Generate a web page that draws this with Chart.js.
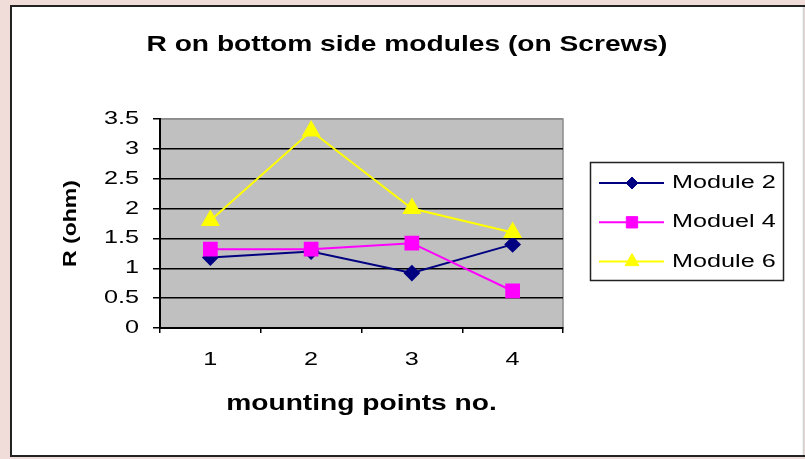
<!DOCTYPE html>
<html>
<head>
<meta charset="utf-8">
<script src="https://cdn.jsdelivr.net/npm/chart.js@4.4.1/dist/chart.umd.min.js"></script>
<style>
  body { margin: 0; background: #f0dcd8; }
  canvas { display: block; }
</style>
</head>
<body>
<canvas id="myCanvas" width="805" height="459"></canvas>
<script>
// data
const labels = ["1", "2", "3", "4"];
const module2 = [1.18, 1.28, 0.92, 1.4];
const moduel4 = [1.32, 1.32, 1.42, 0.62];
const module6 = [1.8, 3.3, 2.0, 1.6];
const seriesNames = ["Module 2", "Moduel 4", "Module 6"];
const yMin = 0;
const yMax = 3.5;
const yStep = 0.5;

const family = "'Liberation Sans', Arial, sans-serif";
Chart.defaults.font.family = family;

// the old Excel text is drawn with wide glyphs, so stretch text along its own direction
function widenText(ctx) {
  const fill = CanvasRenderingContext2D.prototype.fillText;
  ctx.fillText = function (text, x, y, maxWidth) {
    const k = /bold/.test(this.font) ? 1.28 : 1.4;
    this.save();
    this.translate(x, y);
    this.scale(k, 1);
    if (maxWidth === undefined) fill.call(this, text, 0, 0);
    else fill.call(this, text, 0, 0, maxWidth / k);
    this.restore();
  };
}

const frame = {
  id: "frame",
  beforeInit(chart) {
    widenText(chart.ctx);
  },
  afterLayout(chart) {
    // centre the title over the whole white box, not only the plot
    if (chart.titleBlock) {
      chart.titleBlock.left = 10;
      chart.titleBlock.right = 804;
      chart.titleBlock.width = 794;
    }
  },
  beforeDraw(chart) {
    const ctx = chart.ctx;
    const a = chart.chartArea;
    ctx.save();
    ctx.fillStyle = "#f0dcd8";
    ctx.fillRect(0, 0, 805, 459);
    ctx.fillStyle = "#ffffff";
    ctx.fillRect(10, 5, 794, 452);
    ctx.strokeStyle = "#222";
    ctx.lineWidth = 2;
    ctx.beginPath();
    ctx.moveTo(11, 457);
    ctx.lineTo(11, 6);
    ctx.lineTo(805, 6);
    ctx.moveTo(10, 456);
    ctx.lineTo(805, 456);
    ctx.stroke();
    ctx.strokeStyle = "#d0d0d0";
    ctx.lineWidth = 1.5;
    ctx.beginPath();
    ctx.moveTo(803.5, 7);
    ctx.lineTo(803.5, 455);
    ctx.stroke();
    // gray plot area
    ctx.fillStyle = "#c0c0c0";
    ctx.fillRect(a.left, a.top, a.right - a.left, a.bottom - a.top);
    ctx.strokeStyle = "#8c8c8c";
    ctx.lineWidth = 1.5;
    ctx.strokeRect(a.left, a.top, a.right - a.left, a.bottom - a.top);
    ctx.restore();
  },
  afterDraw(chart) {
    const ctx = chart.ctx;
    ctx.save();
    ctx.strokeStyle = "#222";
    ctx.lineWidth = 1.5;
    ctx.strokeRect(590.5, 162.5, 193, 118);
    chart.data.datasets.forEach((ds, i) => {
      const y = 183 + i * 39.3;
      ctx.strokeStyle = ds.borderColor;
      ctx.lineWidth = 2;
      ctx.beginPath();
      ctx.moveTo(599, y);
      ctx.lineTo(664, y);
      ctx.stroke();
      ctx.fillStyle = ds.pointBackgroundColor;
      ctx.strokeStyle = ds.pointBorderColor;
      ctx.lineWidth = 1;
      Chart.helpers.drawPoint(ctx, {
        pointStyle: ds.pointStyle,
        radius: ds.pointRadius - 1,
        borderWidth: 1
      }, 632, y);
      ctx.fillStyle = "#000";
      ctx.font = "18px " + family;
      ctx.textAlign = "left";
      ctx.textBaseline = "middle";
      ctx.fillText(ds.label, 672, y);
    });
    ctx.restore();
  }
};

new Chart(document.getElementById("myCanvas"), {
  type: "line",
  data: {
    labels: labels,
    datasets: [
      {
        label: seriesNames[0],
        data: module2,
        borderColor: "#000080",
        backgroundColor: "#000080",
        pointBackgroundColor: "#000080",
        pointBorderColor: "#000080",
        pointStyle: "rectRot",
        pointRadius: 7,
        borderWidth: 2,
        order: 3
      },
      {
        label: seriesNames[1],
        data: moduel4,
        borderColor: "#ff00ff",
        backgroundColor: "#ff00ff",
        pointBackgroundColor: "#ff00ff",
        pointBorderColor: "#ff00ff",
        pointStyle: "rect",
        pointRadius: 9,
        borderWidth: 2,
        order: 2
      },
      {
        label: seriesNames[2],
        data: module6,
        borderColor: "#ffff00",
        backgroundColor: "#ffff00",
        pointBackgroundColor: "#ffff00",
        pointBorderColor: "#ffff00",
        pointStyle: "triangle",
        pointRadius: 9,
        borderWidth: 2,
        order: 1
      }
    ]
  },
  options: {
    responsive: false,
    animation: false,
    layout: { padding: { left: 10, right: 242, top: 0, bottom: 0 } },
    plugins: {
      legend: { display: false },
      tooltip: { enabled: false },
      title: {
        display: true,
        text: "R on bottom side modules (on Screws)",
        color: "#000",
        font: { size: 22, weight: "bold" },
        padding: { top: 32, bottom: 60.6 }
      }
    },
    scales: {
      x: {
        offset: true,
        grid: {
          offset: true,
          drawOnChartArea: false,
          drawTicks: true,
          tickLength: 5,
          color: "#000",
          lineWidth: 1.5
        },
        border: { color: "#000", width: 2 },
        ticks: { color: "#000", font: { size: 18 }, padding: 16 },
        title: {
          display: true,
          text: "mounting points no.",
          color: "#000",
          font: { size: 22, weight: "bold" },
          padding: { top: 0, bottom: 42 }
        },
        afterFit(scale) {
          scale.height = 131;
        }
      },
      y: {
        min: yMin,
        max: yMax,
        ticks: {
          stepSize: yStep,
          color: "#000",
          font: { size: 18 },
          padding: 14,
          callback: (v) => String(v)
        },
        grid: {
          color: (c) => (c.tick && c.tick.value === yMax ? "#8c8c8c" : "#000"),
          tickColor: "#000",
          lineWidth: 1.5,
          tickLength: 7
        },
        border: { color: "#000", width: 2 },
        title: {
          display: true,
          text: "R (ohm)",
          color: "#000",
          font: { size: 18, weight: "bold" },
          padding: { top: 50, bottom: 0 }
        },
        afterFit(scale) {
          scale.width = 150;
        }
      }
    }
  },
  plugins: [frame]
});
</script>
</body>
</html>
